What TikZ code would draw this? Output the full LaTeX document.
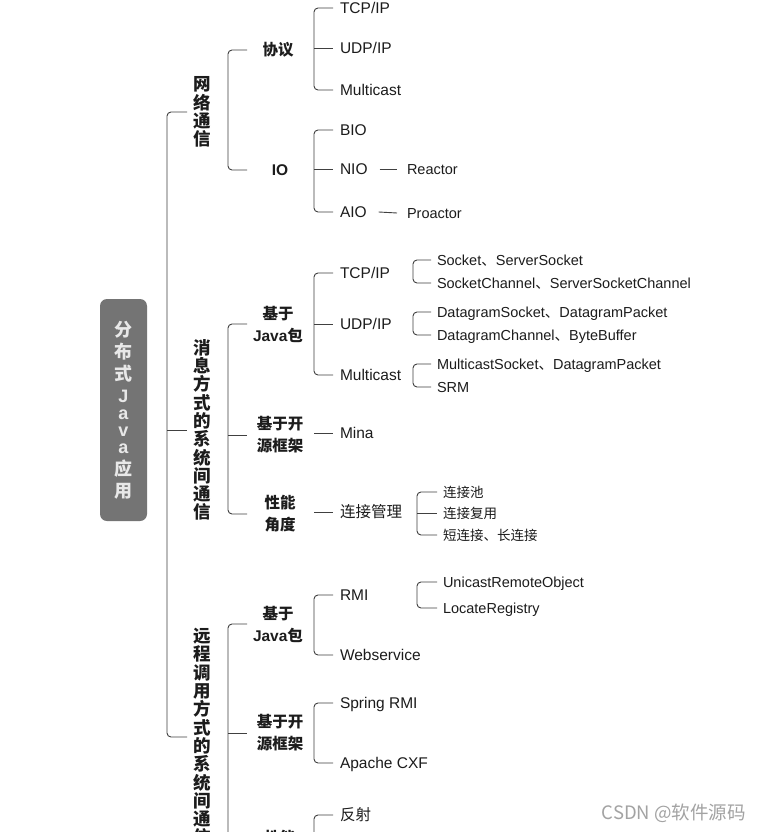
\documentclass[tikz,border=0pt]{standalone}
\usepackage{fontspec}
\setmainfont{Liberation Sans}
\newfontfamily\cjk{Noto Sans CJK SC}
\usepackage{xcolor}
\usetikzlibrary{calc,positioning}
\definecolor{Ink}{HTML}{1C1C1C}
\definecolor{Wire}{HTML}{404040}
\definecolor{RootFill}{HTML}{747474}
\definecolor{RootText}{HTML}{E8E8E8}
\definecolor{Mark}{HTML}{A3A3A3}

\begin{document}
\begin{tikzpicture}[x=1pt,y=-1pt,
  branch/.style={draw=Wire,line width=0.9pt,rounded corners=4pt},
  cat/.style={font=\cjk\bfseries\fontsize{17.5}{18.3}\selectfont,align=center,text=Ink,inner sep=0pt},
  sub/.style={font=\bfseries\fontsize{15.5}{22}\selectfont,align=center,text=Ink,inner sep=0pt},
  leaf/.style={anchor=west,font=\fontsize{15.5}{18}\selectfont,text=Ink,inner sep=0pt,outer xsep=7pt,text height=11pt,text depth=0pt},
  tip/.style={anchor=west,font=\fontsize{14.5}{17}\selectfont,text=Ink,inner sep=0pt,outer xsep=6pt,text height=10.4pt,text depth=0pt}]
\useasboundingbox (0,0) rectangle (760,832);
\fill[white] (0,0) rectangle (760,832);
\clip (0,0) rectangle (760,832);
% columns of the brackets
\coordinate (c1) at (167,0);
\coordinate (c2) at (228,0);
\coordinate (e2) at (247,0);
\coordinate (c3) at (314,0);
\coordinate (c4) at (413,0);
\coordinate (c5) at (417,0);
\coordinate (rTail) at (314,890);
% root
\node[fill=RootFill,rounded corners=7pt,minimum width=47pt,minimum height=222pt,inner sep=0pt,text=RootText,align=center,font=\bfseries\fontsize{18}{22}\selectfont] (root) at (123.5,410) {{\cjk 分}\\{\cjk 布}\\{\cjk 式}\\J\\[-5pt]a\\[-5pt]v\\[-5pt]a\\{\cjk 应}\\{\cjk 用}};
% first level
\node[cat] (net) at (202,112) {网\\络\\通\\信};
\node[cat] (msg) at (202,430) {消\\息\\方\\式\\的\\系\\统\\间\\通\\信};
\node[cat] (rpc) at (202,737) {远\\程\\调\\用\\方\\式\\的\\系\\统\\间\\通\\信};
\draw[branch] ([xshift=-6pt]net.west) -| (c1 |- msg) |- ([xshift=-6pt]rpc.west);
\draw[branch] (c1 |- msg) -- ([xshift=-6pt]msg.west);
% network
\node[sub] (proto) at (278,50) {\cjk 协议};
\node[sub] (io) at (280,170) {IO};
\draw[branch] (e2 |- proto) -| (c2 |- io) -- (e2 |- io);
\node[leaf] (pTcp) at (333,8) {TCP/IP};
\node[leaf] (pUdp) at (333,48) {UDP/IP};
\node[leaf] (pMul) at (333,90) {Multicast};
\draw[branch] (pTcp.west) -| (c3 |- pMul) -- (pMul.west);
\draw[branch] (c3 |- pUdp) -- (pUdp.west);
\node[leaf] (iBio) at (333,130) {BIO};
\node[leaf] (iNio) at (333,169) {NIO};
\node[leaf] (iAio) at (333,212) {AIO};
\draw[branch] (iBio.west) -| (c3 |- iAio) -- (iAio.west);
\draw[branch] (c3 |- iNio) -- (iNio.west);
\node[tip] (reactor) at (401,169) {Reactor};
\node[tip] (proactor) at (401,213) {Proactor};
\draw[branch] ([xshift=5pt]iNio.east) -- ([xshift=-4pt]reactor.west);
\draw[branch] ([xshift=5pt]iAio.east) -- ([xshift=-4pt]proactor.west);
% messaging
\node[sub] (mJava) at (278,324) {{\cjk 基于}\\Java{\cjk 包}};
\node[sub] (mFw) at (280,435) {{\cjk 基于开}\\{\cjk 源框架}};
\node[sub] (mPerf) at (280,514) {{\cjk 性能}\\{\cjk 角度}};
\draw[branch] (e2 |- mJava) -| (c2 |- mPerf) -- (e2 |- mPerf);
\draw[branch] (c2 |- mFw) -- (e2 |- mFw);
\node[leaf] (mTcp) at (333,273) {TCP/IP};
\node[leaf] (mUdp) at (333,324) {UDP/IP};
\node[leaf] (mMul) at (333,375) {Multicast};
\draw[branch] (mTcp.west) -| (c3 |- mMul) -- (mMul.west);
\draw[branch] (c3 |- mUdp) -- (mUdp.west);
\node[leaf] (mMina) at (333,433) {Mina};
\draw[branch] (c3 |- mMina) -- (mMina.west);
\node[leaf] (mConn) at (333,512) {\cjk 连接管理};
\draw[branch] (c3 |- mConn) -- (mConn.west);
\node[tip] (tSock) at (431,260) {Socket{\cjk 、}ServerSocket};
\node[tip] (tSockCh) at (431,283) {SocketChannel{\cjk 、}ServerSocketChannel};
\draw[branch] (tSock.west) -| (c4 |- tSockCh) -- (tSockCh.west);
\node[tip] (tDg) at (431,312) {DatagramSocket{\cjk 、}DatagramPacket};
\node[tip] (tDgCh) at (431,335) {DatagramChannel{\cjk 、}ByteBuffer};
\draw[branch] (tDg.west) -| (c4 |- tDgCh) -- (tDgCh.west);
\node[tip] (tMs) at (431,364) {MulticastSocket{\cjk 、}DatagramPacket};
\node[tip] (tSrm) at (431,387) {SRM};
\draw[branch] (tMs.west) -| (c4 |- tSrm) -- (tSrm.west);
\node[tip,font=\cjk\fontsize{13.5}{16}\selectfont] (tPool) at (437,492) {连接池};
\node[tip,font=\cjk\fontsize{13.5}{16}\selectfont] (tReuse) at (437,513) {连接复用};
\node[tip,font=\cjk\fontsize{13.5}{16}\selectfont] (tShort) at (437,535) {短连接、长连接};
\draw[branch] (tPool.west) -| (c5 |- tShort) -- (tShort.west);
\draw[branch] (c5 |- tReuse) -- (tReuse.west);
% remote call
\node[sub] (rJava) at (278,624) {{\cjk 基于}\\Java{\cjk 包}};
\node[sub] (rFw) at (280,733) {{\cjk 基于开}\\{\cjk 源框架}};
\node[sub] (rPerf) at (280,849) {{\cjk 性能}\\{\cjk 角度}};
\draw[branch] (e2 |- rJava) -| (c2 |- rPerf) -- (e2 |- rPerf);
\draw[branch] (c2 |- rFw) -- (e2 |- rFw);
\node[leaf] (rRmi) at (333,595) {RMI};
\node[leaf] (rWs) at (333,655) {Webservice};
\draw[branch] (rRmi.west) -| (c3 |- rWs) -- (rWs.west);
\node[leaf] (rSpring) at (333,703) {Spring RMI};
\node[leaf] (rCxf) at (333,763) {Apache CXF};
\draw[branch] (rSpring.west) -| (c3 |- rCxf) -- (rCxf.west);
\node[leaf] (rRefl) at (333,815) {\cjk 反射};
\draw[branch] (rRefl.west) -| (rTail);
\node[tip] (tUro) at (437,582) {UnicastRemoteObject};
\node[tip] (tLoc) at (437,608) {LocateRegistry};
\draw[branch] (tUro.west) -| (c5 |- tLoc) -- (tLoc.west);
% watermark
\node[font=\cjk\fontsize{18.5}{20}\selectfont,text=Mark,anchor=east,inner sep=0pt] (mark) at (746,813) {CSDN @软件源码};
\end{tikzpicture}
\end{document}
